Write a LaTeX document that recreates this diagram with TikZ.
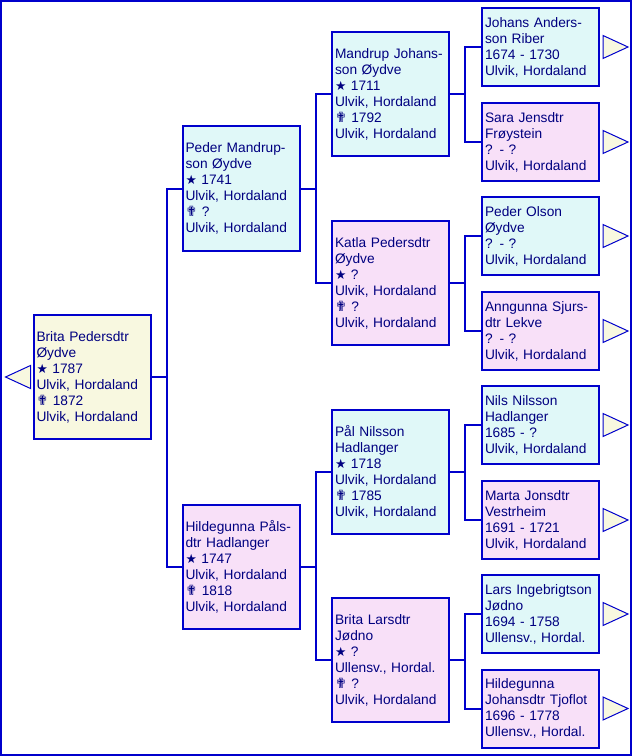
\documentclass[tikz,border=0pt]{standalone}
\usepackage{fontspec}
\setmainfont{Liberation Sans}
\newfontfamily\symfont{DejaVu Sans}
\usetikzlibrary{positioning}

\definecolor{inkblue}{RGB}{0,0,128}
\definecolor{lineblue}{RGB}{0,0,204}
\definecolor{malefill}{RGB}{224,248,248}
\definecolor{femfill}{RGB}{248,224,248}
\definecolor{rootfill}{RGB}{248,248,224}

\newcommand{\born}{{\symfont\fontsize{9.5}{12}\selectfont ★}}
\newcommand{\died}{{\symfont\fontsize{10.5}{12}\selectfont ✟}}

\tikzset{
  person/.style={draw=lineblue, line width=1.5pt, text=inkblue,
    font=\fontsize{10.3}{12}\selectfont, align=left, inner sep=2.25pt,
    outer sep=0pt, text width=83.25pt, minimum width=87.75pt},
  tall/.style={person, minimum height=93pt},
  short/.style={person, minimum height=58.5pt},
  male/.style={fill=malefill},
  female/.style={fill=femfill},
  link/.style={draw=lineblue, line width=1.5pt},
  more/.style={draw=lineblue, line width=0.75pt, fill=rootfill},
}

\begin{document}
\begin{tikzpicture}[x=0.75pt, y=-0.75pt]
  \useasboundingbox (0,0) rectangle (632,756);
  \draw[lineblue, line width=1.5pt] (1,1) rectangle (631,755);

  % generation 0 and 1
  \node[tall, fill=rootfill] (root) at (92,377) {Brita Pedersdtr\\Øydve\\\born\ 1787\\Ulvik, Hordaland\\\died\ 1872\\Ulvik, Hordaland};
  \node[tall, male] (pmo) at (241,188.5) {Peder Mandrup-\\son Øydve\\\born\ 1741\\Ulvik, Hordaland\\\died\ ?\\Ulvik, Hordaland};
  \node[tall, female] (hph) at (241,566.5) {Hildegunna Påls-\\dtr Hadlanger\\\born\ 1747\\Ulvik, Hordaland\\\died\ 1818\\Ulvik, Hordaland};

  % generation 2
  \node[tall, male] (mjo) at (390.5,94) {Mandrup Johans-\\son Øydve\\\born\ 1711\\Ulvik, Hordaland\\\died\ 1792\\Ulvik, Hordaland};
  \node[tall, female] (kpo) at (390.5,283) {Katla Pedersdtr\\Øydve\\\born\ ?\\Ulvik, Hordaland\\\died\ ?\\Ulvik, Hordaland};
  \node[tall, male] (pnh) at (390.5,471.5) {Pål Nilsson\\Hadlanger\\\born\ 1718\\Ulvik, Hordaland\\\died\ 1785\\Ulvik, Hordaland};
  \node[tall, female] (blj) at (390.5,660) {Brita Larsdtr\\Jødno\\\born\ ?\\Ullensv., Hordal.\\\died\ ?\\Ulvik, Hordaland};

  % generation 3
  \node[short, male] (jar) at (540.5,47) {Johans Anders-\\son Riber\\1674 - 1730\\Ulvik, Hordaland};
  \node[short, female] (sjf) at (540.5,142) {Sara Jensdtr\\Frøystein\\? - ?\\Ulvik, Hordaland};
  \node[short, male] (poo) at (540.5,236) {Peder Olson\\Øydve\\? - ?\\Ulvik, Hordaland};
  \node[short, female] (asl) at (540.5,331) {Anngunna Sjurs-\\dtr Lekve\\? - ?\\Ulvik, Hordaland};
  \node[short, male] (nnh) at (540.5,425) {Nils Nilsson\\Hadlanger\\1685 - ?\\Ulvik, Hordaland};
  \node[short, female] (mjv) at (540.5,520) {Marta Jonsdtr\\Vestrheim\\1691 - 1721\\Ulvik, Hordaland};
  \node[short, male] (lij) at (540.5,614) {Lars Ingebrigtson\\Jødno\\1694 - 1758\\Ullensv., Hordal.};
  \node[short, female] (hjt) at (540.5,708.5) {Hildegunna\\Johansdtr Tjoflot\\1696 - 1778\\Ullensv., Hordal.};

  % connectors
  \draw[link] (root.east) -- ++(16,0) coordinate (j0);
  \draw[link] (pmo.west) -| (j0) |- (hph.west);
  \draw[link] (pmo.east) -- ++(16,0) coordinate (j1);
  \draw[link] (mjo.west) -| (j1) |- (kpo.west);
  \draw[link] (hph.east) -- ++(16,0) coordinate (j2);
  \draw[link] (pnh.west) -| (j2) |- (blj.west);
  \draw[link] (mjo.east) -- ++(16,0) coordinate (j3);
  \draw[link] (jar.west) -| (j3) |- (sjf.west);
  \draw[link] (kpo.east) -- ++(16,0) coordinate (j4);
  \draw[link] (poo.west) -| (j4) |- (asl.west);
  \draw[link] (pnh.east) -- ++(16,0) coordinate (j5);
  \draw[link] (nnh.west) -| (j5) |- (mjv.west);
  \draw[link] (blj.east) -- ++(16,0) coordinate (j6);
  \draw[link] (lij.west) -| (j6) |- (hjt.west);

  % more ancestors / descendants
  \draw[more] ([shift={(-3,-11.5)}]root.west) -- ++(-25,11.5) -- ++(25,11.5) -- cycle;
  \foreach \n in {jar,sjf,poo,asl,nnh,mjv,lij,hjt}
    \draw[more] ([shift={(4,-11.5)}]\n.east) -- ++(25,11.5) -- ++(-25,11.5) -- cycle;
\end{tikzpicture}
\end{document}
